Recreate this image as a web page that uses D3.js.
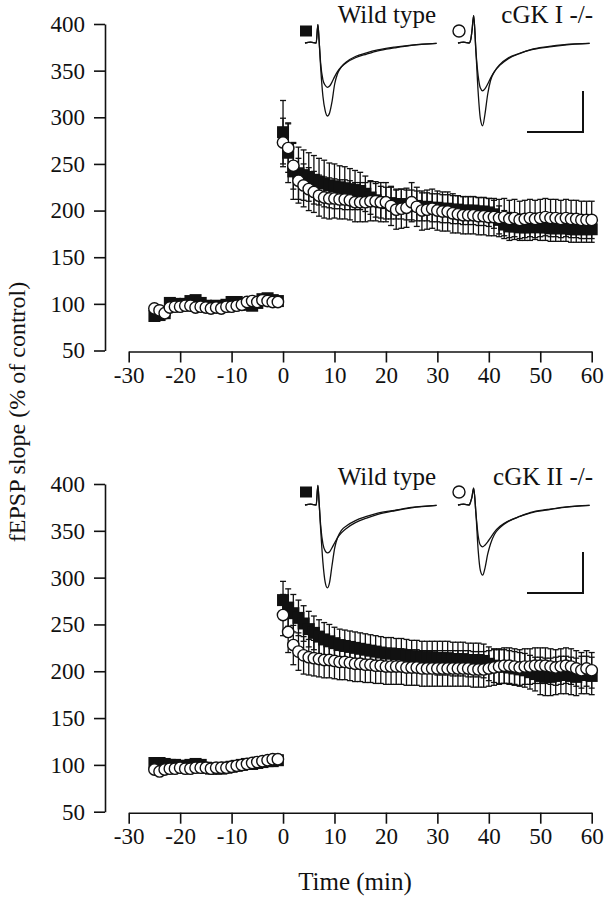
<!DOCTYPE html>
<html>
<head>
<meta charset="utf-8">
<script src="https://cdn.jsdelivr.net/npm/d3@7"></script>
<style>
  body { margin: 0; background: #fff; }
  svg { display: block; font-family: "Liberation Serif", "Times New Roman", serif; }
</style>
</head>
<body>
<div id="chart"></div>
<script>
// time grid (min)
const timePre = d3.range(-25, 0);
const timePost = d3.range(0, 61);
const xTicks = [-30, -20, -10, 0, 10, 20, 30, 40, 50, 60];
const yTicks = [50, 100, 150, 200, 250, 300, 350, 400];

// panel 1: wild type vs cGK I -/-
const wtPre1 = [87, 88, 90, 101, 100, 98, 100, 103, 104, 101, 98, 97, 98, 97, 99, 102, 102, 100, 99, 98, 101, 105, 106, 104, 103];
const koPre1 = [95, 93, 90, 96, 97, 97, 98, 98, 96, 97, 96, 95, 96, 95, 97, 97, 98, 99, 102, 103, 102, 104, 103, 102, 102];
const wtPost1 = [284, 262, 242, 240, 238, 236, 233, 231, 229, 227, 226, 225, 224, 223, 222, 221, 218, 214, 211, 209,
  208, 208, 207, 207, 206, 206, 205, 204, 204, 203, 203, 202, 202, 201, 201, 200, 200, 200, 199, 199,
  198, 196, 190, 185, 183, 183, 182, 182, 182, 183, 182, 182, 181, 181, 181, 181, 180, 180, 180, 180, 180];
const koPost1 = [273, 267, 248, 232, 227, 223, 220, 216, 214, 213, 213, 212, 212, 211, 209, 209, 209, 210, 210, 209,
  209, 205, 201, 202, 203, 209, 204, 200, 201, 202, 200, 199, 199, 197, 196, 195, 195, 195, 194, 194,
  193, 193, 192, 193, 191, 192, 190, 191, 192, 191, 192, 193, 192, 192, 191, 192, 191, 191, 190, 190, 190];
const wtErrPre1 = [5, 5, 5, 4, 4, 5, 5, 4, 4, 5, 5, 4, 4, 5, 5, 4, 4, 5, 5, 4, 4, 5, 5, 4, 5];
const koErrPre1 = [5, 4, 5, 5, 4, 4, 5, 5, 4, 4, 5, 5, 4, 4, 5, 5, 4, 4, 5, 5, 4, 4, 5, 5, 4];
const wtErrPost1 = [34, 32, 30, 28, 27, 26, 26, 25, 25, 24, 24, 23, 23, 22, 21, 20, 19, 18, 18, 17,
  17, 17, 16, 16, 16, 16, 16, 15, 15, 15, 15, 15, 15, 15, 15, 15, 15, 15, 15, 15,
  15, 15, 15, 15, 15, 14, 14, 14, 14, 14, 14, 14, 14, 14, 14, 14, 14, 14, 14, 14, 14];
const koErrPost1 = [26, 26, 25, 24, 23, 23, 22, 22, 22, 22, 21, 21, 21, 21, 21, 21, 21, 21, 21, 21,
  21, 21, 21, 21, 21, 21, 21, 21, 21, 21, 21, 21, 21, 21, 20, 20, 20, 20, 20, 20,
  20, 20, 20, 20, 20, 20, 20, 20, 20, 20, 20, 20, 20, 20, 20, 20, 20, 20, 20, 20, 20];

// panel 2: wild type vs cGK II -/-
const wtPre2 = [102, 102, 101, 100, 100, 99, 99, 100, 101, 100, 97, 96, 96, 96, 97, 98, 99, 100, 101, 101, 102, 103, 104, 104, 105];
const koPre2 = [95, 93, 95, 96, 96, 97, 96, 96, 97, 97, 97, 96, 97, 97, 97, 98, 99, 100, 101, 102, 103, 104, 105, 106, 106];
const wtPost2 = [276, 268, 262, 257, 251, 245, 241, 237, 234, 232, 230, 228, 227, 226, 225, 224, 223, 222, 221, 220,
  219, 219, 218, 218, 217, 216, 216, 215, 215, 215, 214, 214, 214, 213, 213, 213, 212, 212, 212, 211,
  208, 206, 205, 205, 204, 203, 202, 201, 199, 197, 195, 194, 194, 195, 196, 196, 195, 194, 196, 196, 195];
const koPost2 = [260, 242, 228, 221, 217, 215, 214, 213, 212, 212, 211, 210, 210, 209, 208, 208, 207, 207, 206, 206,
  205, 205, 205, 205, 204, 204, 204, 203, 203, 203, 203, 203, 203, 203, 203, 203, 203, 202, 202, 202,
  203, 204, 205, 206, 206, 205, 204, 205, 205, 206, 206, 206, 205, 204, 205, 206, 205, 203, 201, 203, 201];
const wtErrPre2 = [4, 5, 5, 4, 4, 5, 5, 4, 4, 5, 5, 4, 4, 5, 5, 4, 4, 5, 5, 4, 4, 5, 5, 4, 4];
const koErrPre2 = [5, 5, 4, 4, 5, 5, 4, 4, 5, 5, 4, 4, 5, 5, 4, 4, 5, 5, 4, 4, 5, 5, 4, 4, 5];
const wtErrPost2 = [20, 20, 20, 19, 19, 19, 18, 18, 18, 18, 17, 17, 17, 17, 17, 17, 17, 17, 17, 17,
  17, 17, 17, 17, 17, 17, 17, 17, 17, 17, 18, 18, 18, 18, 18, 18, 18, 18, 18, 18,
  18, 18, 18, 18, 18, 18, 18, 18, 18, 18, 20, 20, 20, 20, 20, 20, 20, 20, 20, 20, 20];
const koErrPost2 = [22, 22, 21, 20, 20, 19, 19, 19, 19, 19, 19, 19, 19, 19, 19, 19, 19, 19, 19, 19,
  19, 19, 19, 19, 19, 19, 19, 19, 19, 19, 19, 19, 19, 19, 19, 19, 19, 19, 19, 19,
  19, 19, 19, 19, 19, 19, 19, 19, 19, 19, 19, 19, 19, 19, 19, 19, 19, 19, 19, 19, 19];

// example fEPSP traces (ms, mV), before and after tetanus
const traceTime = [0, 1, 2, 2.3, 2.5, 2.8, 3.2, 3.6, 4.0, 4.4, 4.8, 5.3, 5.8, 6.5, 7.5, 9, 11, 13, 16, 19, 23.5];
const wtTraceAfter1 = [0, 0.02, 0, 0.45, 0.1, -0.6, -1.3, -1.65, -1.78, -1.7, -1.45, -1.0, -0.75, -0.58, -0.45, -0.33, -0.24, -0.17, -0.1, -0.05, -0.01];
const wtTraceBefore1 = [0, 0.02, 0, 0.45, 0.1, -0.5, -0.9, -1.03, -1.08, -1.05, -0.96, -0.82, -0.7, -0.58, -0.47, -0.36, -0.27, -0.19, -0.12, -0.06, -0.01];
const koTraceAfter1 = [0, 0.02, 0, 0.1, 0.3, 0.67, -0.2, -1.2, -1.85, -2.02, -1.75, -1.25, -0.92, -0.7, -0.52, -0.36, -0.25, -0.16, -0.09, -0.04, -0.01];
const koTraceBefore1 = [0, 0.02, 0, 0.1, 0.3, 0.67, -0.2, -0.8, -1.1, -1.17, -1.12, -1.0, -0.86, -0.7, -0.54, -0.38, -0.26, -0.17, -0.1, -0.05, -0.01];
const wtTraceAfter2 = [0, 0.02, 0, 0.48, 0.1, -0.6, -1.4, -1.88, -2.02, -1.88, -1.5, -1.05, -0.8, -0.62, -0.5, -0.38, -0.28, -0.2, -0.13, -0.06, -0.01];
const wtTraceBefore2 = [0, 0.02, 0, 0.48, 0.1, -0.5, -0.95, -1.12, -1.17, -1.14, -1.05, -0.92, -0.8, -0.68, -0.56, -0.43, -0.32, -0.23, -0.14, -0.07, -0.01];
const koTraceAfter2 = [0, 0.02, 0, 0.1, 0.2, 0.41, -0.2, -1.1, -1.6, -1.71, -1.55, -1.2, -0.95, -0.72, -0.55, -0.4, -0.28, -0.18, -0.11, -0.05, -0.01];
const koTraceBefore2 = [0, 0.02, 0, 0.1, 0.2, 0.41, -0.2, -0.75, -0.98, -1.02, -0.98, -0.9, -0.8, -0.66, -0.52, -0.39, -0.28, -0.19, -0.12, -0.06, -0.01];

const width = 607, height = 900;
const axisX = 105;
const ink = '#111';

const svg = d3.select('#chart').append('svg')
  .attr('width', width)
  .attr('height', height);

const x = d3.scaleLinear().domain([-30, 60]).range([128.7, 591.7]);

// inset trace scales (shared size)
const tx = d3.scaleLinear().domain([0, 10]).range([0, 56]);
const tv = d3.scaleLinear().domain([0, -1]).range([0, 41]);

function styleAxis(g) {
  g.attr('font-family', null).attr('font-size', 23);
  g.selectAll('path, line').attr('stroke', ink).attr('stroke-width', 1.6);
  g.selectAll('text').attr('fill', ink);
}

function drawPanel(p) {
  const y = d3.scaleLinear().domain([50, 400]).range([p.yBottom, p.yTop]);
  const g = svg.append('g');

  g.append('g')
    .attr('transform', `translate(${axisX},0)`)
    .call(d3.axisLeft(y).tickValues(yTicks).tickSize(11).tickSizeOuter(0).tickPadding(9).tickFormat(d => String(d)))
    .call(styleAxis);

  g.append('g')
    .attr('transform', `translate(0,${p.yBottom + 1})`)
    .call(d3.axisBottom(x).tickValues(xTicks).tickSize(11).tickSizeOuter(0).tickPadding(4).tickFormat(d => String(d)))
    .call(styleAxis);

  const times = timePre.concat(timePost);
  const wt = times.map((t, i) => ({ t, v: p.wtVals[i], e: p.wtErr[i] }));
  const ko = times.map((t, i) => ({ t, v: p.koVals[i], e: p.koErr[i] }));

  // error bars
  const bars = g.append('g').attr('stroke', ink).attr('stroke-width', 1.3);
  [wt, ko].forEach(s => {
    s.forEach(d => {
      const cx = x(d.t);
      bars.append('line').attr('x1', cx).attr('x2', cx).attr('y1', y(d.v - d.e)).attr('y2', y(d.v + d.e));
      bars.append('line').attr('x1', cx - 3).attr('x2', cx + 3).attr('y1', y(d.v + d.e)).attr('y2', y(d.v + d.e));
      bars.append('line').attr('x1', cx - 3).attr('x2', cx + 3).attr('y1', y(d.v - d.e)).attr('y2', y(d.v - d.e));
    });
  });

  g.append('g').selectAll('rect').data(wt).join('rect')
    .attr('x', d => x(d.t) - 6)
    .attr('y', d => y(d.v) - 6)
    .attr('width', 12).attr('height', 12)
    .attr('fill', ink);

  g.append('g').selectAll('circle').data(ko).join('circle')
    .attr('cx', d => x(d.t))
    .attr('cy', d => y(d.v))
    .attr('r', 5.7)
    .attr('fill', '#fff')
    .attr('stroke', ink)
    .attr('stroke-width', 1.4);

  // insets with example traces
  const line = d3.line()
    .x((d, i) => tx(traceTime[i]))
    .y(d => tv(d))
    .curve(d3.curveMonotoneX);

  const insets = [
    { x0: 305, traces: p.wtTraces, label: 'Wild type', labelX: 436, markX: 306, kind: 'square' },
    { x0: 458, traces: p.koTraces, label: p.koLabel, labelX: 593, markX: 459, kind: 'circle' }
  ];
  insets.forEach(ins => {
    const ig = g.append('g').attr('transform', `translate(${ins.x0},${p.traceBase})`);
    ins.traces.forEach(tr => {
      ig.append('path').datum(tr)
        .attr('d', line)
        .attr('fill', 'none')
        .attr('stroke', ink)
        .attr('stroke-width', 1.3);
    });
    g.append('text')
      .attr('x', ins.labelX).attr('y', p.labelY)
      .attr('text-anchor', 'end')
      .attr('font-size', 25)
      .attr('fill', ink)
      .text(ins.label);
    if (ins.kind === 'square') {
      g.append('rect')
        .attr('x', ins.markX - 6).attr('y', p.markY - 5.5)
        .attr('width', 12).attr('height', 11).attr('fill', ink);
    } else {
      g.append('circle')
        .attr('cx', ins.markX).attr('cy', p.markY).attr('r', 6)
        .attr('fill', '#fff').attr('stroke', ink).attr('stroke-width', 1.4);
    }
  });

  // scale bar: 10 ms, 1 mV
  const sb = g.append('g').attr('transform', `translate(${p.barX},${p.barY})`)
    .attr('stroke', ink).attr('stroke-width', 2);
  sb.append('line').attr('x1', -tx(10)).attr('x2', 0).attr('y1', 0).attr('y2', 0);
  sb.append('line').attr('x1', 0).attr('x2', 0).attr('y1', 1).attr('y2', -tv(-1));
}

drawPanel({
  yTop: 24, yBottom: 350.5,
  wtVals: wtPre1.concat(wtPost1), wtErr: wtErrPre1.concat(wtErrPost1),
  koVals: koPre1.concat(koPost1), koErr: koErrPre1.concat(koErrPost1),
  wtTraces: [wtTraceBefore1, wtTraceAfter1], koTraces: [koTraceBefore1, koTraceAfter1],
  koLabel: 'cGK I -/-', labelY: 23, markY: 31, traceBase: 43, barX: 583, barY: 132
});

drawPanel({
  yTop: 484, yBottom: 811.7,
  wtVals: wtPre2.concat(wtPost2), wtErr: wtErrPre2.concat(wtErrPost2),
  koVals: koPre2.concat(koPost2), koErr: koErrPre2.concat(koErrPost2),
  wtTraces: [wtTraceBefore2, wtTraceAfter2], koTraces: [koTraceBefore2, koTraceAfter2],
  koLabel: 'cGK II -/-', labelY: 485, markY: 492, traceBase: 505, barX: 583, barY: 593
});

// shared axis titles
svg.append('text')
  .attr('transform', 'translate(25,412) rotate(-90)')
  .attr('text-anchor', 'middle')
  .attr('font-size', 24)
  .attr('fill', ink)
  .text('fEPSP slope (% of control)');

svg.append('text')
  .attr('x', 355).attr('y', 890)
  .attr('text-anchor', 'middle')
  .attr('font-size', 25)
  .attr('fill', ink)
  .text('Time (min)');
</script>
</body>
</html>
